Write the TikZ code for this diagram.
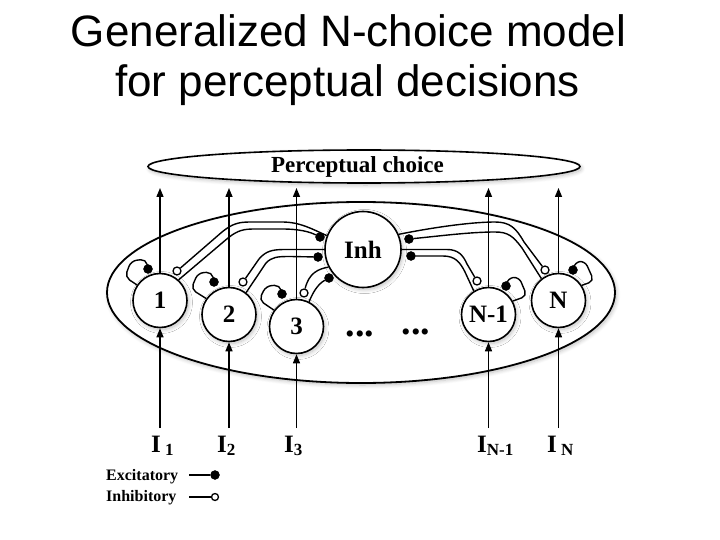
\documentclass[tikz,border=0pt]{standalone}
\usepackage{fontspec}
\setmainfont{Liberation Serif}
\newfontfamily\titlefont{Liberation Sans}
\usetikzlibrary{arrows.meta,shapes.geometric,shadows.blur}
\newcommand\lsub[1]{\raisebox{-3pt}{\fontsize{17}{17}\selectfont #1}}
\begin{document}
\begin{tikzpicture}[x=1pt,y=-1pt,
  softshadow/.style={blur shadow={shadow blur steps=10, shadow xshift=1.5pt, shadow yshift=-2pt, shadow opacity=25, shadow blur radius=4pt}},
  neuron/.style={circle, draw, line width=1.6pt, fill=white, minimum size=54pt, inner sep=0pt,
    font=\fontsize{25}{25}\selectfont\bfseries, softshadow},
  edot/.style={circle, fill=black, draw=black, inner sep=0pt, minimum size=9pt},
  idot/.style={circle, fill=white, draw=black, line width=1.3pt, inner sep=0pt, minimum size=8pt},
  wire/.style={line width=1.4pt},
  loopw/.style={line width=1.4pt, rounded corners=5.5pt},
  uparrow/.style={line width=1.4pt, -{Triangle[length=9pt,width=7pt]}},
  inlabel/.style={anchor=base west, inner sep=0pt, font=\fontsize{25}{25}\selectfont\bfseries},
  legtext/.style={anchor=base west, inner sep=0pt, font=\fontsize{16}{16}\selectfont\bfseries},
  ellipsis/.style={anchor=base, inner sep=0pt, font=\fontsize{38}{38}\selectfont\bfseries}
]
\useasboundingbox (0,0) rectangle (720,540);
% title
\node[anchor=base, font=\titlefont\fontsize{44}{50}\selectfont] (title1) at (348.5,47) {Generalized N-choice model};
\node[anchor=base, font=\titlefont\fontsize{44}{50}\selectfont] (title2) at (347.5,97) {for perceptual decisions};
% perceptual choice
\node[ellipse, draw, line width=1.6pt, fill=white, minimum width=432pt, minimum height=33pt, inner sep=0pt,
  font=\fontsize{23}{23}\selectfont\bfseries, softshadow] (choice) at (364,166.5) {\hspace*{-13pt}Perceptual choice};
% pool ellipse
\node[ellipse, draw, line width=1.8pt, fill=white, minimum width=508pt, minimum height=181pt, inner sep=0pt, softshadow] (pool) at (361,292.5) {};
% neurons
\node[neuron] (n1) at (160,300.5) {1};
\node[neuron] (n2) at (229,314.5) {2};
\node[neuron] (n3) at (296.5,326.5) {3};
\node[neuron, minimum size=76pt] (inh) at (363,249.5) {Inh};
\node[neuron] (nM) at (488.5,314.5) {N-1};
\node[neuron] (nN) at (558.5,300.5) {N};
\node[ellipsis] (dots1) at (360,336) {...};
\node[ellipsis] (dots2) at (416,334) {...};
% dots
\node[edot] (e1) at (320,237) {};
\node[edot] (e2) at (318,257) {};
\node[edot] (e3) at (329,278) {};
\node[edot] (eR1) at (409,239) {};
\node[edot] (eR2) at (411,256) {};
\node[idot] (o1) at (177,271) {};
\node[idot] (o2) at (243,282) {};
\node[idot] (o3) at (304,293) {};
\node[idot] (oM) at (477,281) {};
\node[idot] (oN) at (545,270) {};
\node[edot] (s1) at (148,269) {};
\node[edot] (s2) at (214,282) {};
\node[edot] (s3) at (282,294) {};
\node[edot] (sM) at (506,286) {};
\node[edot] (sN) at (573,270) {};
% wires left
\draw[wire] (inh.159) .. controls (312,229) and (300,222) .. (282,222) -- (250,222)
  .. controls (238,222) and (232,224) .. (222,232) -- (o1);
\draw[wire] (n1.48) -- (228,238) .. controls (238,230) and (244,229) .. (255,229) -- (282,229)
  .. controls (300,229) and (310,232) .. (e1);
\draw[wire] (inh.180) -- (285,249.5) .. controls (272,249.5) and (266,251) .. (259,259) -- (o2);
\draw[wire] (n2.52) -- (266,263) .. controls (272,257) and (277,256.5) .. (290,256.5) -- (e2);
\draw[wire] (inh.207) .. controls (318,269) and (309,273) .. (o3);
\draw[wire] (n3.63) .. controls (313,292) and (318,284) .. (e3);
% wires right
\draw[wire] (inh.23) .. controls (430,228) and (470,222) .. (495,222)
  .. controls (510,222) and (516,228) .. (524,242) -- (oN);
\draw[wire] (nN.128) -- (522,248) .. controls (513,236) and (508,232) .. (495,232)
  .. controls (470,232) and (440,236) .. (eR1);
\draw[wire] (inh.0) -- (447,249.5) .. controls (458,249.5) and (463,255) .. (467,264) -- (oM);
\draw[wire] (nM.122) -- (465,272) .. controls (460,262) and (455,256) .. (443,256) -- (eR2);
% self loops
\draw[loopw] (n1.146) -- (125,277) -- (131,261) -- (146,259) -- (s1);
\draw[loopw] (n2.145) -- (191,289) -- (198,273) -- (212,272) -- (s2);
\draw[loopw] (n3.144) -- (259,300) -- (266,286) -- (280,285) -- (s3);
\draw[loopw] (nM.29) -- (527,296) -- (519,277) -- (508,278) -- (sM);
\draw[loopw] (nN.33) -- (594,281) -- (585,261) -- (575,262) -- (sN);
% outputs
\coordinate (outy) at (0,188);
\foreach \n in {n1,n2,n3,nM,nN} {
  \draw[uparrow] (\n.north) -- (\n.north |- outy);
}
% inputs
\coordinate (iny) at (0,428);
\foreach \n in {n1,n2,n3,nM,nN} {
  \draw[uparrow] (\n.south |- iny) -- (\n.south);
}
\node[inlabel] (l1) at (151,452) {I\,\lsub{1}};
\node[inlabel] (l2) at (217,452) {I\lsub{2}};
\node[inlabel] (l3) at (284,452) {I\lsub{3}};
\node[inlabel] (lM) at (477,452) {I\lsub{N-1}};
\node[inlabel] (lN) at (547,452) {I\,\lsub{N}};
% legend
\node[legtext] (lex) at (106,480) {Excitatory};
\node[legtext] (lin) at (106,501) {Inhibitory};
\node[edot] (lgE) at (215,475) {};
\node[idot, minimum size=7pt] (lgI) at (215,497) {};
\coordinate (lgEs) at (189,475);
\coordinate (lgIs) at (189,497);
\draw[wire] (lgEs) -- (lgE);
\draw[wire] (lgIs) -- (lgI);
\end{tikzpicture}
\end{document}
